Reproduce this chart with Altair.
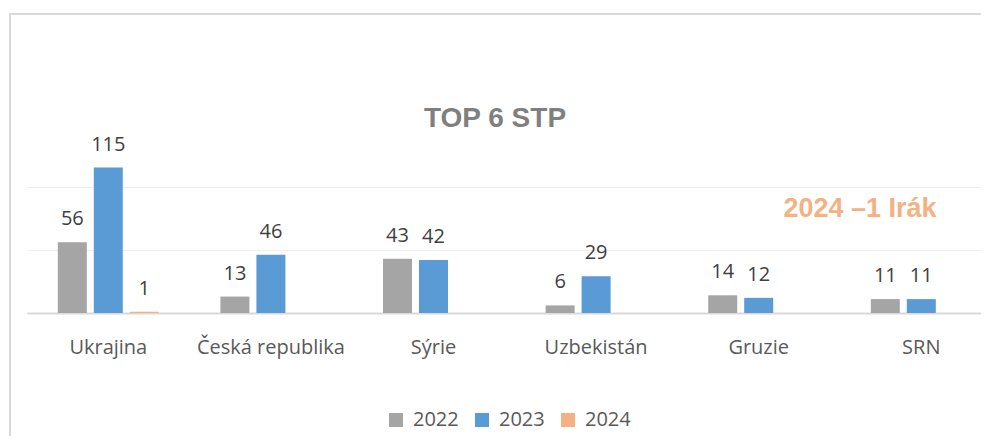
import altair as alt
import pandas as pd

countries = ["Ukrajina", "Česká republika", "Sýrie", "Uzbekistán", "Gruzie", "SRN"]
years = ["2022", "2023", "2024"]
v2022 = [56, 13, 43, 6, 14, 11]
v2023 = [115, 46, 42, 29, 12, 11]
v2024 = [1, None, None, None, None, None]
colors = ["#a5a5a5", "#5b9bd5", "#f4b183"]
title_text = "TOP 6 STP"
note_text = "2024 –1 Irák"

rows = []
for i, c in enumerate(countries):
    for y, vals in zip(years, [v2022, v2023, v2024]):
        if vals[i] is not None:
            rows.append({"country": c, "year": y, "value": vals[i]})
df = pd.DataFrame(rows)

W, H = 954, 177
STEP = 162.6

x_enc = alt.X(
    "country:N",
    sort=countries,
    scale=alt.Scale(domain=countries, range=[0, STEP * 6], paddingInner=0.379, paddingOuter=0.1895),
    axis=alt.Axis(
        title=None, ticks=False, grid=False, domainColor="#d9d9d9", domainWidth=2,
        labelFont="Open Sans", labelFontSize=20, labelColor="#595959",
        labelPadding=24, labelAngle=0,
    ),
)
xo_enc = alt.XOffset("year:N", scale=alt.Scale(domain=years, paddingInner=0.194, paddingOuter=0))
y_enc = alt.Y(
    "value:Q",
    scale=alt.Scale(domain=[0, 140], nice=False),
    axis=alt.Axis(title=None, labels=False, ticks=False, domain=False, grid=True,
                  gridColor="#eeeeee", gridWidth=1, values=[50, 100]),
)

base = alt.Chart(df)

bars = base.mark_bar().encode(
    x=x_enc,
    xOffset=xo_enc,
    y=y_enc,
    color=alt.Color(
        "year:N",
        scale=alt.Scale(domain=years, range=colors),
        legend=alt.Legend(
            title=None, orient="none", legendX=359, legendY=274, direction="horizontal",
            symbolType="square", symbolSize=196, symbolStrokeWidth=0, symbolOpacity=1,
            labelFont="Open Sans", labelFontSize=20, labelColor="#595959",
            labelOffset=7, columnPadding=13,
        ),
    ),
)

labels = base.mark_text(
    font="Open Sans", fontSize=20, color="#404040", baseline="alphabetic", dy=-17
).encode(x=x_enc, xOffset=xo_enc, y=y_enc, text=alt.Text("value:Q"))

note = alt.Chart(pd.DataFrame({"note": [note_text]})).mark_text(
    font="Liberation Sans", fontSize=27, fontWeight="bold", color="#f4b183",
    align="center", baseline="alphabetic",
).encode(text="note:N", x=alt.value(833), y=alt.value(81))

title = alt.Chart(pd.DataFrame({"t": [title_text]})).mark_text(
    font="Liberation Sans", fontSize=28, fontWeight="bold", color="#7f7f7f",
    align="center", baseline="alphabetic",
).encode(text="t:N", x=alt.value(468), y=alt.value(-9))

frame = alt.Chart(pd.DataFrame({"f": [0]})).mark_rect(
    fillOpacity=0, stroke="#d9d9d9", strokeWidth=2
).encode(x=alt.value(-17), x2=alt.value(W + 40), y=alt.value(-122), y2=alt.value(H + 200))

chart = alt.layer(frame, bars, labels, note, title).properties(
    width=W,
    height=H,
    autosize=alt.AutoSizeParams(type="none"),
    padding={"left": 19, "top": 128, "right": 0, "bottom": 123},
).configure_view(stroke=None)

chart.save("out.html", embed_options={"renderer": "svg", "actions": False})
